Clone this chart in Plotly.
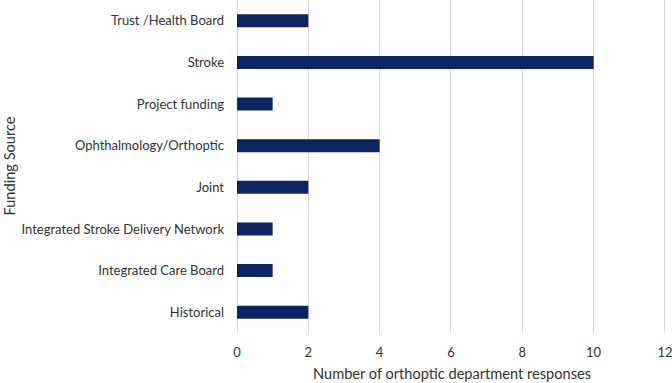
import plotly.graph_objects as go

categories = ["Trust /Health Board", "Stroke", "Project funding", "Ophthalmology/Orthoptic",
              "Joint", "Integrated Stroke Delivery Network", "Integrated Care Board", "Historical"]
values = [2, 10, 1, 4, 2, 1, 1, 2]

fig = go.Figure(go.Bar(
    x=values, y=categories, orientation="h",
    marker=dict(color="#0c2461", line=dict(width=0)),
    width=0.31,
))

font = dict(family="Lato, Open Sans, sans-serif", size=13, color="#333333")
title_font = dict(family="Lato, Open Sans, sans-serif", size=14.6, color="#333333")

fig.update_layout(
    width=672, height=383,
    margin=dict(l=237, r=3, t=0, b=50),
    paper_bgcolor="white", plot_bgcolor="white",
    font=font,
    showlegend=False,
    bargap=0.69,
)
fig.update_xaxes(range=[0, 12.03], tickvals=[0, 2, 4, 6, 8, 10, 12], showgrid=True,
                 gridcolor="#d9d9d9", gridwidth=1,
                 zeroline=True, zerolinecolor="#d9d9d9", zerolinewidth=1,
                 showline=False, ticks="", ticklabelstandoff=10, tickfont=font,
                 ticklabeloverflow="allow")
fig.update_yaxes(categoryorder="array", categoryarray=categories[::-1],
                 showgrid=False, showline=False, ticks="", ticklabelstandoff=12, tickfont=font)

fig.add_annotation(text="Number of orthoptic department responses", xref="paper", yref="paper",
                   x=0.5, y=0, yshift=-40, showarrow=False, font=title_font, yanchor="middle")
fig.add_annotation(text="Funding Source", xref="paper", yref="paper", x=0, xshift=-228,
                   y=0.5, textangle=-90, showarrow=False, font=title_font, xanchor="center")

fig.write_html("out.html")
